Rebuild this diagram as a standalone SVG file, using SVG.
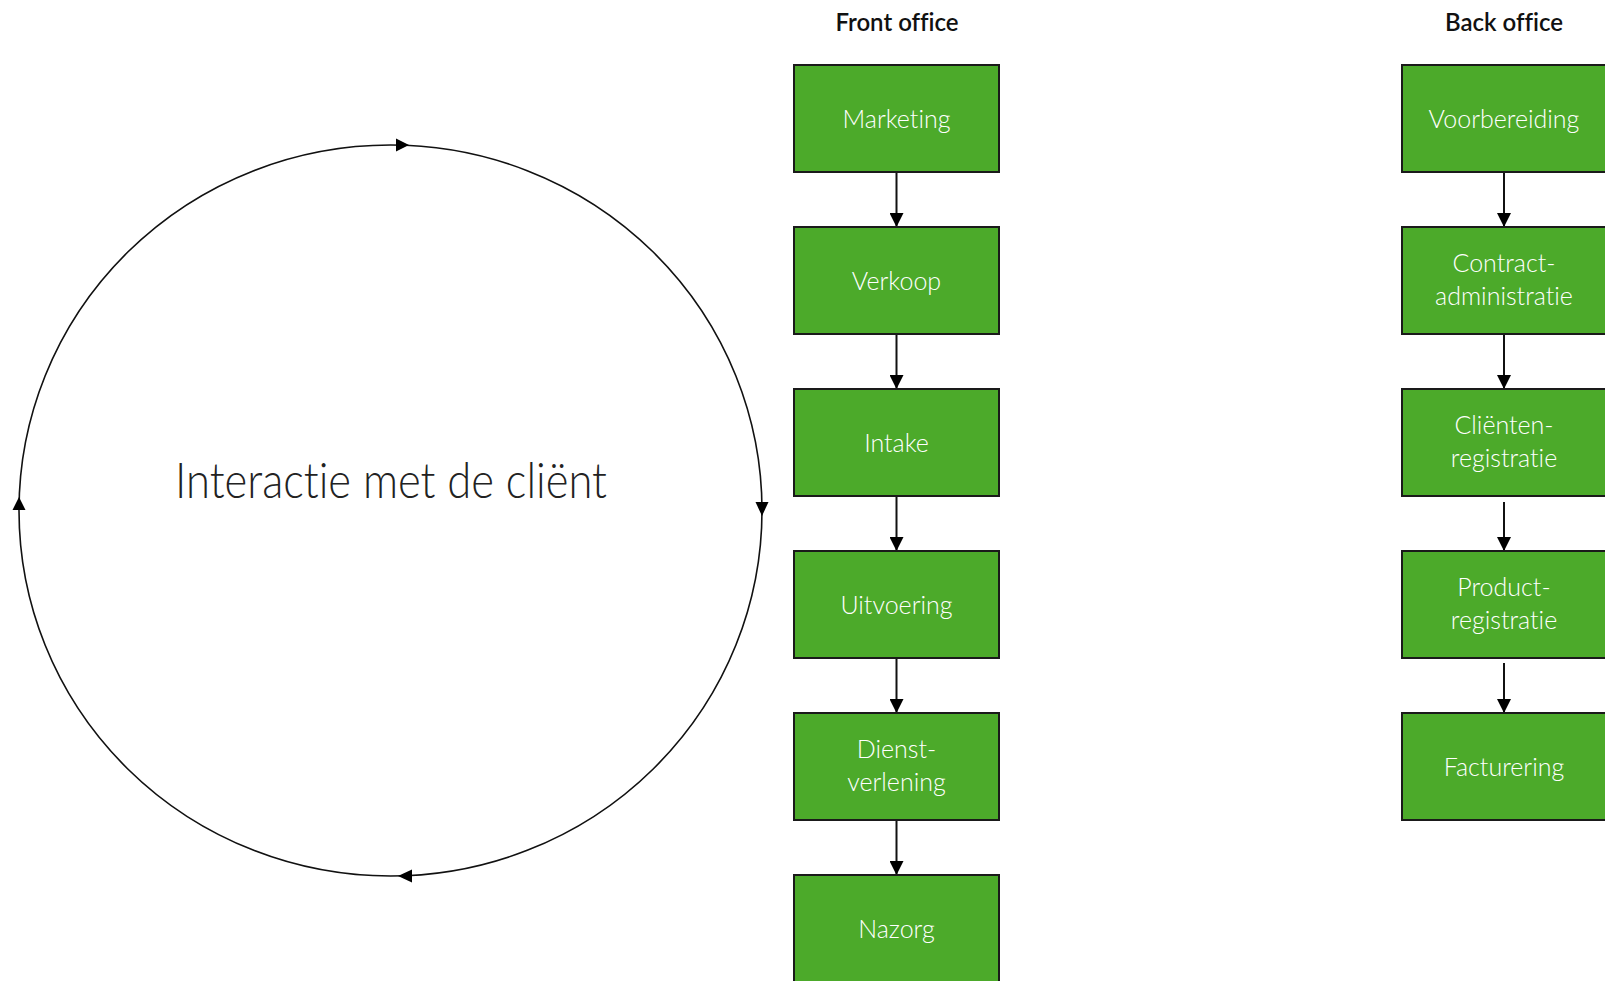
<svg xmlns="http://www.w3.org/2000/svg" width="1605" height="981" viewBox="0 0 1605 981">
<defs>
<style>
text{font-variant-ligatures:none}
.box{fill:#4caa2a;stroke:#1a1a1a;stroke-width:2}
.lbl{font-family:Lato,"Liberation Sans",sans-serif;font-size:25px;font-weight:300;fill:#ffffff;text-anchor:middle}
.hdr{font-family:Lato,"Liberation Sans",sans-serif;font-size:24px;font-weight:600;fill:#111111;text-anchor:middle}
.big{font-family:Lato,"Liberation Sans",sans-serif;font-size:50px;font-weight:300;fill:#222222;text-anchor:middle}
.ln{stroke:#111111;stroke-width:2;fill:none}
.ah{fill:#000000}
</style>
<marker id="arr" viewBox="0 0 14 14" refX="14" refY="7" markerWidth="14" markerHeight="14" markerUnits="userSpaceOnUse" orient="auto">
<path d="M0,0 L14,7 L0,14 Z" fill="#000000"/>
</marker>
</defs>
<rect width="1605" height="981" fill="#ffffff"/>

<g id="cycle">
<ellipse cx="390.5" cy="510.5" rx="371.5" ry="365.5" fill="none" stroke="#111111" stroke-width="1.6"/>
<polygon class="ah" points="409,145 396,138.5 396,151.5"/>
<polygon class="ah" points="762,516 755.5,502 768.5,502"/>
<polygon class="ah" points="398,876 412,869.5 412,882.5"/>
<polygon class="ah" points="19,497 12.5,510 25.5,510"/>
<text class="big" x="391" y="498" textLength="432" lengthAdjust="spacingAndGlyphs">Interactie met de cliënt</text>
</g>

<text class="hdr" x="897" y="31">Front office</text>
<text class="hdr" x="1504" y="31">Back office</text>

<g id="connectors">
<line class="ln" x1="896.5" y1="172" x2="896.5" y2="227" marker-end="url(#arr)"/>
<line class="ln" x1="896.5" y1="334" x2="896.5" y2="389" marker-end="url(#arr)"/>
<line class="ln" x1="896.5" y1="496" x2="896.5" y2="551" marker-end="url(#arr)"/>
<line class="ln" x1="896.5" y1="658" x2="896.5" y2="713" marker-end="url(#arr)"/>
<line class="ln" x1="896.5" y1="820" x2="896.5" y2="875" marker-end="url(#arr)"/>
<line class="ln" x1="1504" y1="172" x2="1504" y2="227" marker-end="url(#arr)"/>
<line class="ln" x1="1504" y1="334" x2="1504" y2="389" marker-end="url(#arr)"/>
<line class="ln" x1="1504" y1="502" x2="1504" y2="551" marker-end="url(#arr)"/>
<line class="ln" x1="1504" y1="663" x2="1504" y2="713" marker-end="url(#arr)"/>
</g>

<g id="marketing"><rect class="box" x="794" y="65" width="205" height="107"/><text class="lbl" x="896.5" y="128">Marketing</text></g>
<g id="verkoop"><rect class="box" x="794" y="227" width="205" height="107"/><text class="lbl" x="896.5" y="290">Verkoop</text></g>
<g id="intake"><rect class="box" x="794" y="389" width="205" height="107"/><text class="lbl" x="896.5" y="452">Intake</text></g>
<g id="uitvoering"><rect class="box" x="794" y="551" width="205" height="107"/><text class="lbl" x="896.5" y="614">Uitvoering</text></g>
<g id="dienstverlening"><rect class="box" x="794" y="713" width="205" height="107"/><text class="lbl" x="896.5" y="758">Dienst-</text><text class="lbl" x="896.5" y="791">verlening</text></g>
<g id="nazorg"><rect class="box" x="794" y="875" width="205" height="120"/><text class="lbl" x="896.5" y="938">Nazorg</text></g>

<g id="voorbereiding"><rect class="box" x="1402" y="65" width="205" height="107"/><text class="lbl" x="1504" y="128">Voorbereiding</text></g>
<g id="contractadministratie"><rect class="box" x="1402" y="227" width="205" height="107"/><text class="lbl" x="1504" y="272">Contract-</text><text class="lbl" x="1504" y="305">administratie</text></g>
<g id="clientenregistratie"><rect class="box" x="1402" y="389" width="205" height="107"/><text class="lbl" x="1504" y="434">Cliënten-</text><text class="lbl" x="1504" y="467">registratie</text></g>
<g id="productregistratie"><rect class="box" x="1402" y="551" width="205" height="107"/><text class="lbl" x="1504" y="596">Product-</text><text class="lbl" x="1504" y="629">registratie</text></g>
<g id="facturering"><rect class="box" x="1402" y="713" width="205" height="107"/><text class="lbl" x="1504" y="776">Facturering</text></g>
</svg>
